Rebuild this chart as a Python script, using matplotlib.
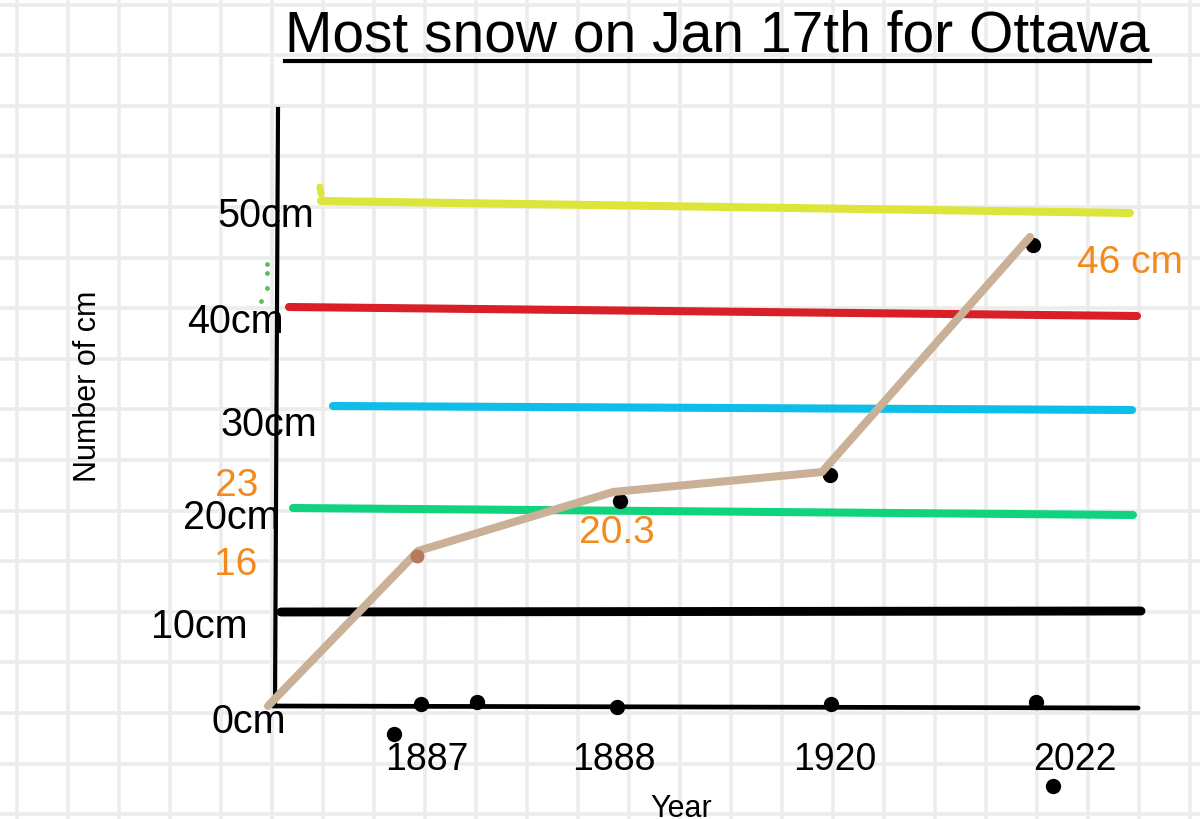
import numpy as np
import matplotlib
matplotlib.use("Agg")
import matplotlib.pyplot as plt

plt.rcParams["font.family"] = ["Liberation Sans", "DejaVu Sans"]

# --- data ---
# x positions are "slots" along the hand-drawn year axis (origin = 0)
line_x = [0, 1.50, 3.45, 5.54, 7.62]
line_cm = [0, 15.5, 21.4, 23.4, 46.9]

dot_x = [3.52, 5.62, 7.65]
dot_cm = [20.5, 23.1, 46.1]
first_dot_x = 1.49
first_dot_cm = 15.0

year_labels = ["1887", "1888", "1920", "2022"]
year_label_x = [1.59, 3.46, 5.67, 8.07]

value_labels = ["16", "23", "20.3", "46 cm"]
value_label_xy = [(-0.32, 14.2), (-0.31, 22.1), (3.49, 17.4), (8.62, 44.4)]

tick_labels = ["0cm", "10cm", "20cm", "30cm", "40cm", "50cm"]
tick_label_xy = [(-0.19, -1.5), (-0.69, 8.0), (-0.37, 18.9),
                 (0.01, 28.2), (-0.33, 38.5), (-0.02, 49.1)]

# hand-drawn reference levels (start/end heights, they slope a bit)
ref_start = [50.5, 39.9, 30.0, 19.8, 9.4]
ref_end = [49.3, 39.0, 29.6, 19.1, 9.5]
ref_x0 = [0.53, 0.21, 0.65, 0.25, 0.13]
ref_x1 = [8.62, 8.69, 8.64, 8.65, 8.73]
ref_colors = ["#dbe53a", "#d81f2a", "#0dbfe8", "#10d37e", "#000000"]

axis_dot_x = [1.53, 2.09, 3.49, 5.63, 7.68]
axis_dot_cm = [0.2, 0.4, -0.1, 0.2, 0.4]
stray_x = [1.26, 7.85]
stray_cm = [-2.8, -8.0]

green_dot_x = [-0.01, -0.01, -0.01, -0.07]
green_dot_cm = [44.2, 43.3, 41.8, 40.5]

fig = plt.figure(figsize=(12, 8.2), dpi=100)

# grid paper background
bg = fig.add_axes([0, 0, 1, 1])
bg.set_xlim(0, 1200)
bg.set_ylim(820, 0)
bg.set_xticks(np.arange(17, 1200, 51))
bg.set_yticks(np.arange(5.5, 820, 50.6))
bg.grid(True, color="#ececec", lw=2.6)
bg.tick_params(length=0, labelbottom=False, labelleft=False)
for s in bg.spines.values():
    s.set_visible(False)

ax = fig.add_axes([0, 0, 1, 1])
ax.patch.set_alpha(0)
ax.set_xlim(-2.68, 9.32)
ax.set_ylim(-11.3, 70.7)
ax.axis("off")

# reference lines
for y0, y1, x0, x1, c in zip(ref_start, ref_end, ref_x0, ref_x1, ref_colors):
    lw = 6.4 if c == "#000000" else 5.8
    ax.plot([x0, x1], [y0, y1], color=c, lw=lw, solid_capstyle="round", zorder=2)
ax.plot([0.52, 0.53], [51.9, 51.2], color="#dbe53a", lw=5, solid_capstyle="round", zorder=2)

# axes drawn by hand
ax.plot([0.05, 8.70], [0, -0.2], color="black", lw=3.4, solid_capstyle="round", zorder=3)
ax.plot([0.07, 0.10], [0, 59.7], color="black", lw=3.0, zorder=3)

ax.scatter(green_dot_x, green_dot_cm, s=6, color="#5cbf5c", zorder=3)

# snowfall line
ax.plot(line_x, line_cm, color="#c9b097", lw=5.8, solid_capstyle="round",
        solid_joinstyle="round", zorder=4)
ax.plot(dot_x, dot_cm, "o", color="black", ms=10, zorder=3)
ax.plot([first_dot_x], [first_dot_cm], "o", color="#b7785c", ms=9, zorder=5)

ax.plot(axis_dot_x, axis_dot_cm, "o", color="black", ms=10, zorder=4)
ax.plot(stray_x, stray_cm, "o", color="black", ms=10, zorder=4)

# labels
for lab, (x, y) in zip(tick_labels, tick_label_xy):
    ax.text(x, y, lab, fontsize=28.5, ha="center", va="center", zorder=6)
for lab, x in zip(year_labels, year_label_x):
    ax.text(x, -5.3, lab, fontsize=27, ha="center", va="center", zorder=6)
for lab, (x, y) in zip(value_labels, value_label_xy):
    ax.text(x, y, lab, fontsize=28, color="#f28a1e", ha="center", va="center", zorder=6)

ax.text(-1.80, 32.1, "Number of cm", fontsize=22, rotation=90, ha="center", va="center")
ax.text(4.13, -10.2, "Year", fontsize=22, ha="center", va="center")

title = fig.text(0.598, 1 - 52 / 820, "Most snow on Jan 17th for Ottawa",
                 fontsize=41, ha="center", va="baseline")
fig.canvas.draw()
bb = title.get_window_extent().transformed(fig.transFigure.inverted())
uy = 1 - 62 / 820
fig.add_artist(plt.Line2D([bb.x0, bb.x1], [uy, uy], color="black", lw=3,
                          transform=fig.transFigure))

fig.savefig("out.png", dpi=100)
